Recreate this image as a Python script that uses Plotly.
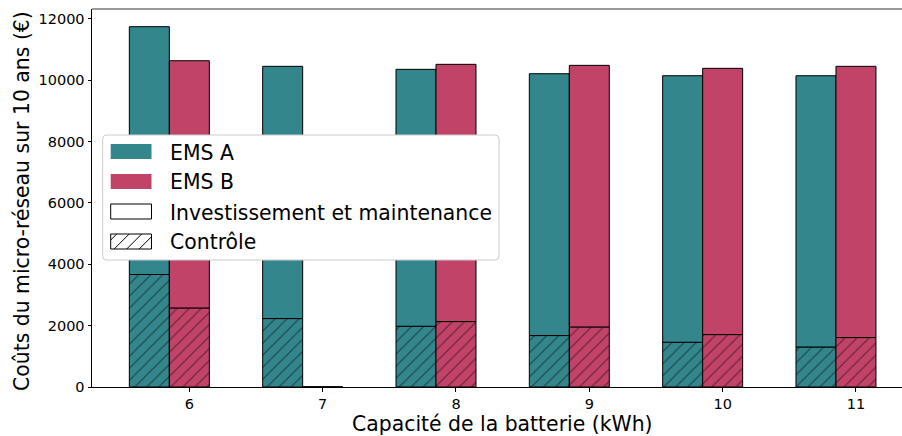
import plotly.graph_objects as go

# Battery capacities (kWh)
capacities = [6, 7, 8, 9, 10, 11]

# Control costs over 10 years (EUR), hatched lower segment
control_a = [3665, 2230, 1979, 1676, 1458, 1304]
control_b = [2576, 0, 2132, 1957, 1708, 1611]

# Investment + maintenance costs (EUR), upper segment
invest_a = [8075, 8218, 8371, 8531, 8684, 8838]
invest_b = [8055, 0, 8381, 8523, 8675, 8837]

y_ticks = [0, 2000, 4000, 6000, 8000, 10000, 12000]

TEAL = "#33868C"
CRIMSON = "#C14368"
FONT = "DejaVu Sans"

W, H = 902, 436
ML, MT, MB, MR = 92, 9, 49, 0
PW = W - ML - MR
PH = H - MT - MB


def px(xp):
    return (xp - ML) / PW


def py(yp):
    return (H - MB - yp) / PH


fig = go.Figure()

bar_w = 0.3
hatch = dict(shape="/", fgcolor="black", size=8.5, solidity=0.13, fillmode="overlay")
edge = dict(color="black", width=1)

for ctrl, inv, color, off in [
    (control_a, invest_a, TEAL, -0.45),
    (control_b, invest_b, CRIMSON, -0.15),
]:
    fig.add_trace(go.Bar(
        x=capacities, y=ctrl, width=bar_w, offset=off,
        marker=dict(color=color, line=edge, pattern=dict(bgcolor=color, **hatch)),
        showlegend=False, hoverinfo="skip",
    ))
    fig.add_trace(go.Bar(
        x=capacities, y=inv, base=ctrl, width=bar_w, offset=off,
        marker=dict(color=color, line=edge),
        showlegend=False, hoverinfo="skip",
    ))

shapes = []
annotations = []

# top frame line
shapes.append(dict(type="line", xref="paper", yref="paper", x0=0, x1=1, y0=1, y1=1,
                   line=dict(color="#7a7a7a", width=1.5), layer="above"))

# legend frame (rounded corners)
lx0, lx1, ly0, ly1, r = 102.7, 499, 135, 260, 4
path = (
    f"M{px(lx0 + r)},{py(ly0)} L{px(lx1 - r)},{py(ly0)} "
    f"Q{px(lx1)},{py(ly0)} {px(lx1)},{py(ly0 + r)} "
    f"L{px(lx1)},{py(ly1 - r)} Q{px(lx1)},{py(ly1)} {px(lx1 - r)},{py(ly1)} "
    f"L{px(lx0 + r)},{py(ly1)} Q{px(lx0)},{py(ly1)} {px(lx0)},{py(ly1 - r)} "
    f"L{px(lx0)},{py(ly0 + r)} Q{px(lx0)},{py(ly0)} {px(lx0 + r)},{py(ly0)} Z"
)
shapes.append(dict(type="path", xref="paper", yref="paper", path=path,
                   fillcolor="white", line=dict(color="#cccccc", width=1), layer="above"))

legend_items = [
    ("EMS A", TEAL, None, False),
    ("EMS B", CRIMSON, None, False),
    ("Investissement et maintenance", "white", "black", False),
    ("Contrôle", "white", "black", True),
]
sx0, sx1 = 110.7, 151.5
row_y = [151.5, 181.5, 211.5, 241.5]
for (label, fill, border, hatched), cy in zip(legend_items, row_y):
    y0, y1 = cy - 7.5, cy + 7.5
    shapes.append(dict(type="rect", xref="paper", yref="paper",
                       x0=px(sx0), x1=px(sx1), y0=py(y1), y1=py(y0),
                       fillcolor=fill,
                       line=dict(color=border if border else fill, width=1 if border else 0),
                       layer="above"))
    if hatched:
        step = 12.5
        k = sx0 + y0 + 6
        while k < sx1 + y1:
            # line x + y = k, clipped to swatch
            ya, yb = y0, y1
            xa, xb = k - ya, k - yb
            if xa > sx1:
                ya = k - sx1
                xa = sx1
            if xb < sx0:
                yb = k - sx0
                xb = sx0
            if ya < yb:
                shapes.append(dict(type="line", xref="paper", yref="paper",
                                   x0=px(xa), y0=py(ya), x1=px(xb), y1=py(yb),
                                   line=dict(color="black", width=1), layer="above"))
            k += step
    annotations.append(dict(text=label, xref="paper", yref="paper",
                            x=px(168), y=py(cy + 1), xanchor="left", yanchor="middle",
                            showarrow=False, font=dict(family=FONT, size=20.4, color="black")))

# axis titles
annotations.append(dict(text="Capacité de la batterie (kWh)", xref="paper", yref="paper",
                        x=px(502.5), y=py(423.5), xanchor="center", yanchor="middle",
                        borderpad=0,
                        showarrow=False, font=dict(family=FONT, size=20.4, color="black")))
annotations.append(dict(text="Coûts du micro-réseau sur 10 ans (€)", xref="paper", yref="paper",
                        x=px(22), y=py(201), xanchor="center", yanchor="middle", textangle=-90,
                        showarrow=False, font=dict(family=FONT, size=20.4, color="black")))

fig.update_layout(
    width=W, height=H,
    margin=dict(l=ML, r=MR, t=MT, b=MB),
    paper_bgcolor="white", plot_bgcolor="white",
    barmode="overlay",
    font=dict(family=FONT, color="black"),
    shapes=shapes,
    annotations=annotations,
    xaxis=dict(
        range=[5.27, 5.27 + PW / 133.33],
        tickmode="array", tickvals=capacities, ticktext=[str(c) for c in capacities],
        ticks="outside", ticklen=3.5, tickwidth=1, tickcolor="black",
        showline=True, linecolor="black", linewidth=1,
        showgrid=False, zeroline=False,
        tickfont=dict(family=FONT, size=14.5, color="black"),
    ),
    yaxis=dict(
        range=[0, 12316],
        tickmode="array", tickvals=y_ticks, ticktext=[str(v) for v in y_ticks],
        ticks="outside", ticklen=3.5, tickwidth=1, tickcolor="black",
        showline=True, linecolor="black", linewidth=1,
        showgrid=False, zeroline=False,
        tickfont=dict(family=FONT, size=14.5, color="black"),
    ),
)

fig.write_html("out.html")
